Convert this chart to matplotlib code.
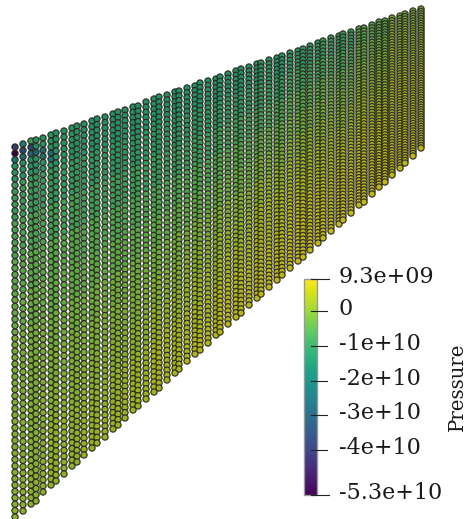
import numpy as np
import matplotlib
matplotlib.use("Agg")
import matplotlib.pyplot as plt
from matplotlib.cm import ScalarMappable
from matplotlib.colors import Normalize

# --- values ---
col_x = [15, 23, 31, 36, 43, 51, 56, 64, 72, 77, 84, 92, 97, 105, 113, 118, 125, 133, 138, 146,
         154, 159, 167, 175, 179, 187, 195, 200, 208, 216, 220, 228, 236, 241, 249, 257, 261, 269, 277, 282,
         290, 298, 303, 310, 318, 323, 331, 339, 343, 351, 359, 364, 372, 379, 385, 392, 400, 405, 413, 421]
col_top = [147, 144, 141, 140, 138, 135, 133, 131, 128, 126, 124, 121, 119, 117, 114, 112, 110, 107, 106, 102,
           99, 97, 95, 92, 91, 88, 86, 83, 81, 79, 77, 74, 71, 69, 67, 64, 63, 60, 58, 56,
           53, 51, 49, 46, 43, 41, 38, 36, 34, 32, 29, 28, 25, 22, 21, 18, 16, 14, 11, 9]
col_bottom = [517, 511, 504, 501, 492, 485, 481, 474, 466, 462, 455, 448, 443, 437, 429, 425, 418, 410, 406, 399,
              392, 388, 380, 373, 369, 361, 354, 350, 343, 335, 332, 324, 317, 313, 305, 298, 294, 287, 280, 275,
              268, 261, 257, 250, 243, 238, 231, 224, 220, 213, 205, 202, 194, 187, 182, 175, 168, 163, 156, 148]
points_per_col = 59

# pressure in 1e10, one row per block of 5 columns, top of the column to the bottom
pressure = [
    [-1.23, -0.91, -0.66, -0.42, -0.28, -0.09, -0.02, 0.06, 0.12, 0.18],
    [-1.23, -0.98, -0.73, -0.48, -0.34, -0.15, -0.02, 0.06, 0.18, 0.24],
    [-1.29, -1.04, -0.79, -0.54, -0.34, -0.15, -0.02, 0.12, 0.24, 0.31],
    [-1.29, -1.10, -0.85, -0.60, -0.40, -0.15, -0.02, 0.12, 0.31, 0.37],
    [-1.29, -1.10, -0.91, -0.60, -0.40, -0.15, 0.05, 0.24, 0.43, 0.49],
    [-1.29, -1.10, -0.85, -0.60, -0.34, -0.09, 0.11, 0.31, 0.49, 0.62],
    [-1.29, -1.04, -0.79, -0.48, -0.22, 0.03, 0.23, 0.43, 0.62, 0.68],
    [-1.23, -0.98, -0.66, -0.35, -0.09, 0.22, 0.42, 0.56, 0.68, 0.74],
    [-1.10, -0.79, -0.48, -0.17, 0.10, 0.34, 0.54, 0.68, 0.74, 0.81],
    [-0.94, -0.69, -0.38, -0.13, 0.12, 0.37, 0.56, 0.68, 0.74, 0.81],
    [-0.50, -0.25, -0.07, 0.12, 0.31, 0.49, 0.62, 0.68, 0.74, 0.81],
    [0.00, 0.12, 0.24, 0.37, 0.49, 0.56, 0.62, 0.68, 0.74, 0.74],
]

# the few odd points in the top left corner
odd_col = [0, 0, 0, 1, 1, 1, 2, 2, 2, 3, 3, 4, 4, 5, 5]
odd_row = [0, 1, 2, 0, 1, 2, 0, 1, 2, 1, 2, 2, 3, 3, 4]
odd_p = [-3.9, -5.3, -2.2, -1.9, -3.6, -2.4, -0.8, -3.7, -2.7, -1.4, -2.6, -2.6, -2.3, -2.5, -2.2]

bar_ticks = [0.93, 0, -1, -2, -3, -4, -5.3]
bar_labels = ["9.3e+09", "0", "-1e+10", "-2e+10", "-3e+10", "-4e+10", "-5.3e+10"]
p_min, p_max = -5.3, 0.93

plt.rcParams["font.family"] = "DejaVu Serif"
fig = plt.figure(figsize=(4.66, 5.19), dpi=100)

# --- points, axes in image pixels ---
ax = fig.add_axes([0, 0, 1, 1])
ax.set_xlim(0, 466)
ax.set_ylim(519, 0)
ax.axis("off")

table = np.array(pressure)
rows = np.arange(points_per_col)
band = rows * table.shape[1] // points_per_col
xs, ys, vals = [], [], []
for i, x in enumerate(col_x):
    col_vals = table[i // 5, band].copy()
    for c, r, p in zip(odd_col, odd_row, odd_p):
        if c == i:
            col_vals[r] = p
    xs.append(np.full(points_per_col, x))
    ys.append(np.linspace(col_top[i], col_bottom[i], points_per_col))
    vals.append(col_vals)

norm = Normalize(p_min, p_max)
# spheres are lit in the original so they come out darker than the bar
face = plt.get_cmap("viridis")(norm(np.concatenate(vals)))
face[:, :3] *= 0.8
ax.scatter(np.concatenate(xs), np.concatenate(ys), c=face, s=20,
           edgecolors=(0.15, 0.15, 0.12, 0.9), linewidths=0.9, clip_on=False)

# --- colorbar ---
bar_left, bar_right, bar_top, bar_bot = 303.5, 316.5, 279, 495
cax = fig.add_axes([bar_left / 466, 1 - bar_bot / 519,
                    (bar_right - bar_left) / 466, (bar_bot - bar_top) / 519])
sm = ScalarMappable(norm=norm, cmap="viridis")
cb = fig.colorbar(sm, cax=cax)
cb.outline.set_edgecolor("#999999")
cb.outline.set_linewidth(1.0)
cb.set_ticks(bar_ticks)
cb.set_ticklabels([])
cax.tick_params(length=0)

# ticks start inside the bar and stick out on the right
for t, lab in zip(bar_ticks, bar_labels):
    y = bar_top + (p_max - t) / (p_max - p_min) * (bar_bot - bar_top)
    end = 329 if t in (bar_ticks[0], bar_ticks[-1]) else 327
    ax.plot([311, end], [y, y], color="#222222", lw=0.8, zorder=5)
    ax.text(339, y - 2, lab, ha="left", va="center", fontsize=16, color="#1a1a1a")
ax.set_zorder(3)
ax.patch.set_alpha(0)

ax.text(457, 387, "Pressure", rotation=90, ha="center", va="center", fontsize=14.2, color="#1a1a1a")

fig.savefig("out.png", dpi=100)
